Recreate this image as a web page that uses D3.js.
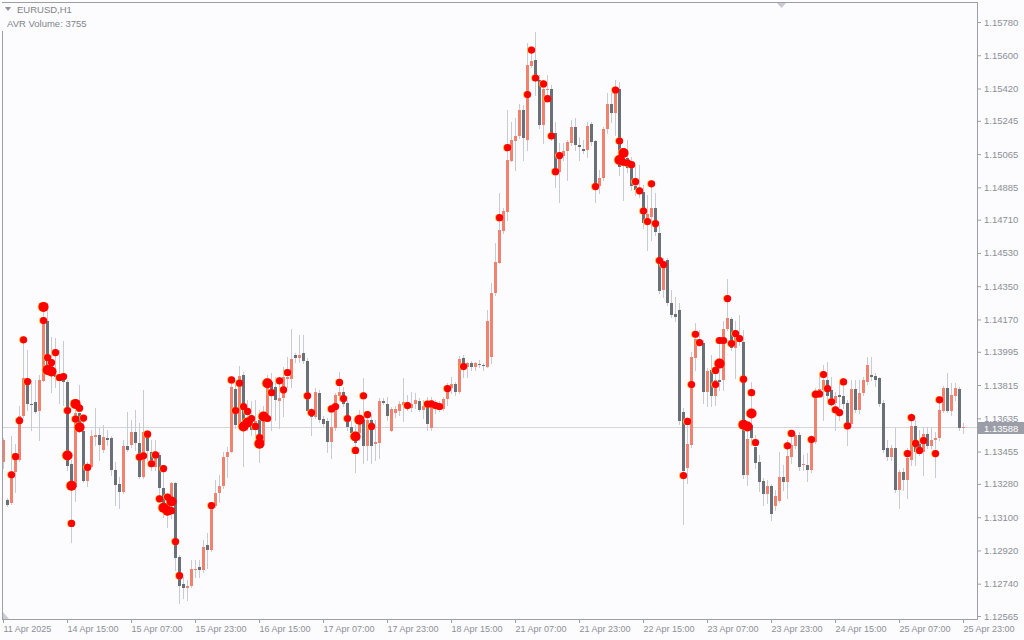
<!DOCTYPE html>
<html><head><meta charset="utf-8">
<script src="https://cdn.jsdelivr.net/npm/d3@7"></script>
<style>
html,body{margin:0;padding:0;background:#fcfcfe;}
svg{display:block;}
text{font-family:"Liberation Sans",Arial,sans-serif;}
</style></head><body>
<svg id="chart" width="1024" height="640"></svg>
<script>
const symbolLabel = "EURUSD,H1";
const indicatorLabel = "AVR Volume: 3755";
const lastPrice = 1.13588;

const opens = [1.13396,1.13194,1.13178,1.13342,1.13410,1.13648,1.13834,1.13713,1.13723,1.13672,
1.13839,1.14164,1.13924,1.13870,1.13861,1.13865,1.13832,1.13389,1.13263,1.13666,
1.13567,1.13298,1.13374,1.13533,1.13546,1.13461,1.13529,1.13529,1.13356,1.13281,
1.13236,1.13486,1.13492,1.13560,1.13501,1.13320,1.13551,1.13455,1.13374,1.13437,
1.13257,1.13167,1.13183,1.13286,1.12886,1.12740,1.12718,1.12730,1.12812,1.12828,
1.12812,1.12951,1.12920,1.13163,1.13230,1.13266,1.13423,1.13455,1.13795,1.13600,
1.13870,1.13690,1.13636,1.13582,1.13627,1.13509,1.13645,1.13834,1.13807,1.13726,
1.13747,1.13850,1.13849,1.13978,1.13961,1.13988,1.13946,1.13672,1.13641,1.13771,
1.13632,1.13618,1.13509,1.13582,1.13757,1.13780,1.13720,1.13587,1.13563,1.13555,
1.13627,1.13486,1.13627,1.13495,1.13504,1.13726,1.13713,1.13569,1.13666,1.13672,
1.13708,1.13693,1.13693,1.13713,1.13731,1.13681,1.13713,1.13585,1.13703,1.13686,
1.13686,1.13739,1.13798,1.13822,1.13780,1.13961,1.13910,1.13933,1.13910,1.13930,
1.13924,1.13915,1.13969,1.14315,1.14478,1.14649,1.14754,1.15030,1.15138,1.15163,
1.15304,1.15142,1.15544,1.15574,1.15466,1.15223,1.15412,1.15416,1.15178,1.14970,
1.15057,1.15084,1.15124,1.15214,1.15115,1.15093,1.15087,1.15227,1.15136,1.14893,
1.14938,1.15199,1.15336,1.15289,1.15418,1.15043,1.15046,1.15019,1.14893,1.14880,
1.14859,1.14694,1.14727,1.14772,1.14637,1.14330,1.14492,1.14261,1.14202,1.14222,
1.13668,1.13365,1.13492,1.13964,1.14065,1.14045,1.13780,1.13897,1.13758,1.13843,
1.13843,1.14119,1.14173,1.14015,1.14054,1.14050,1.13329,1.13600,1.13482,1.13396,
1.13293,1.13225,1.13271,1.13163,1.13190,1.13320,1.13288,1.13423,1.13486,1.13546,
1.13380,1.13383,1.13353,1.13509,1.13785,1.13789,1.13843,1.13789,1.13717,1.13762,
1.13757,1.13717,1.13605,1.13793,1.13681,1.13771,1.13829,1.13870,1.13865,1.13855,
1.13720,1.13472,1.13425,1.13472,1.13248,1.13342,1.13302,1.13410,1.13594,1.13497,
1.13455,1.13551,1.13486,1.13519,1.13526,1.13677,1.13798,1.13672,1.13757,1.13793,
1.13582];

const highs = [1.13529,1.13205,1.13540,1.13497,1.13703,1.14060,1.14005,1.13843,1.13843,1.13870,
1.14238,1.14238,1.14077,1.14070,1.14005,1.14056,1.13843,1.13410,1.13719,1.13816,
1.13638,1.13400,1.13573,1.13692,1.13584,1.13600,1.13573,1.13540,1.13400,1.13318,
1.13519,1.13670,1.13627,1.13681,1.13611,1.13789,1.13573,1.13519,1.13519,1.13454,
1.13367,1.13221,1.13291,1.13291,1.12896,1.12777,1.12761,1.12869,1.12869,1.12869,
1.12978,1.13015,1.13172,1.13302,1.13329,1.13455,1.13482,1.13854,1.13816,1.13919,
1.13886,1.13735,1.13726,1.13735,1.13681,1.13699,1.13870,1.13879,1.13861,1.13854,
1.13915,1.13966,1.14117,1.13989,1.14087,1.14087,1.13962,1.13692,1.13800,1.13789,
1.13645,1.13638,1.13699,1.13773,1.13883,1.13807,1.13735,1.13618,1.13600,1.13681,
1.13854,1.13665,1.13654,1.13627,1.13744,1.13744,1.13753,1.13697,1.13703,1.13731,
1.13852,1.13762,1.13780,1.13773,1.13744,1.13735,1.13753,1.13753,1.13735,1.13730,
1.13753,1.13825,1.13861,1.13834,1.13973,1.13978,1.13942,1.13946,1.13942,1.13951,
1.13933,1.14222,1.14366,1.14583,1.14853,1.14772,1.15304,1.15241,1.15261,1.15336,
1.15331,1.15665,1.15639,1.15726,1.15493,1.15466,1.15493,1.15439,1.15241,1.15125,
1.15124,1.15142,1.15250,1.15261,1.15159,1.15142,1.15241,1.15241,1.15142,1.14979,
1.15214,1.15394,1.15394,1.15466,1.15457,1.15097,1.15142,1.15051,1.15006,1.15006,
1.14898,1.14844,1.14904,1.14853,1.14682,1.14502,1.14505,1.14330,1.14294,1.14258,
1.13690,1.13636,1.13996,1.14150,1.14114,1.14060,1.13906,1.13978,1.13908,1.14077,
1.14159,1.14390,1.14186,1.14159,1.14195,1.14114,1.13600,1.13834,1.13546,1.13437,
1.13313,1.13302,1.13281,1.13248,1.13454,1.13383,1.13519,1.13557,1.13557,1.13562,
1.13437,1.13447,1.13546,1.13798,1.13879,1.13924,1.13942,1.13861,1.13780,1.13827,
1.13852,1.13735,1.13843,1.13843,1.13843,1.13861,1.13969,1.13969,1.13879,1.13861,
1.13735,1.13519,1.13492,1.13585,1.13356,1.13367,1.13475,1.13663,1.13627,1.13573,
1.13587,1.13589,1.13589,1.13562,1.13735,1.13811,1.13879,1.13825,1.13825,1.13807,
1.13609];

const lows = [1.13367,1.13162,1.13172,1.13237,1.13405,1.13643,1.13681,1.13573,1.13665,1.13519,
1.13838,1.13881,1.13780,1.13807,1.13719,1.13708,1.13356,1.12967,1.13190,1.13562,
1.13291,1.13270,1.13373,1.13492,1.13410,1.13454,1.13492,1.13329,1.13167,1.13151,
1.13232,1.13459,1.13481,1.13464,1.13313,1.13313,1.13410,1.13356,1.13356,1.13194,
1.13102,1.13048,1.13097,1.12815,1.12637,1.12664,1.12653,1.12723,1.12777,1.12777,
1.12804,1.12826,1.12918,1.13156,1.13183,1.13259,1.13320,1.13454,1.13584,1.13589,
1.13378,1.13573,1.13546,1.13546,1.13401,1.13502,1.13632,1.13573,1.13627,1.13584,
1.13645,1.13805,1.13807,1.13941,1.13941,1.13935,1.13670,1.13546,1.13638,1.13616,
1.13594,1.13455,1.13420,1.13573,1.13735,1.13703,1.13573,1.13535,1.13347,1.13519,
1.13393,1.13410,1.13393,1.13410,1.13420,1.13713,1.13627,1.13567,1.13641,1.13654,
1.13618,1.13681,1.13672,1.13690,1.13676,1.13636,1.13573,1.13573,1.13665,1.13672,
1.13681,1.13708,1.13771,1.13762,1.13771,1.13861,1.13861,1.13894,1.13897,1.13914,
1.13894,1.13914,1.13934,1.14303,1.14476,1.14637,1.14709,1.15028,1.14979,1.15152,
1.15033,1.15087,1.15537,1.15385,1.15206,1.15124,1.15358,1.15142,1.14889,1.14808,
1.15033,1.14925,1.15115,1.15087,1.15033,1.15070,1.15051,1.15115,1.14808,1.14853,
1.14925,1.15178,1.15241,1.15169,1.14952,1.14817,1.14968,1.14871,1.14844,1.14833,
1.14664,1.14546,1.14601,1.14628,1.14312,1.14294,1.14249,1.14184,1.14159,1.13605,
1.13063,1.13284,1.13481,1.13897,1.14033,1.13717,1.13699,1.13703,1.13708,1.13789,
1.13789,1.14114,1.14005,1.13852,1.14033,1.13313,1.13275,1.13492,1.13367,1.13239,
1.13167,1.13176,1.13086,1.13140,1.13183,1.13248,1.13205,1.13393,1.13475,1.13356,
1.13356,1.13293,1.13346,1.13502,1.13762,1.13627,1.13735,1.13708,1.13573,1.13627,
1.13692,1.13492,1.13594,1.13670,1.13663,1.13762,1.13822,1.13843,1.13811,1.13703,
1.13454,1.13410,1.13410,1.13237,1.13149,1.13248,1.13203,1.13383,1.13383,1.13437,
1.13329,1.13475,1.13475,1.13320,1.13519,1.13670,1.13670,1.13654,1.13735,1.13573,
1.13558];

const closes = [1.13515,1.13167,1.13329,1.13428,1.13645,1.13852,1.13712,1.13706,1.13668,1.13843,
1.14164,1.13924,1.13879,1.13861,1.13852,1.13832,1.13378,1.13263,1.13666,1.13600,
1.13298,1.13380,1.13537,1.13546,1.13492,1.13533,1.13519,1.13353,1.13275,1.13236,
1.13486,1.13461,1.13560,1.13501,1.13317,1.13560,1.13459,1.13401,1.13447,1.13257,
1.13167,1.13140,1.13286,1.12879,1.12730,1.12718,1.12730,1.12821,1.12819,1.12812,
1.12938,1.12923,1.13163,1.13233,1.13271,1.13423,1.13455,1.13802,1.13600,1.13865,
1.13591,1.13654,1.13573,1.13618,1.13546,1.13627,1.13825,1.13762,1.13735,1.13747,
1.13858,1.13861,1.13955,1.13961,1.13978,1.13946,1.13672,1.13641,1.13780,1.13627,
1.13605,1.13509,1.13587,1.13762,1.13780,1.13713,1.13587,1.13558,1.13501,1.13636,
1.13486,1.13627,1.13486,1.13509,1.13726,1.13720,1.13645,1.13686,1.13686,1.13713,
1.13723,1.13713,1.13713,1.13735,1.13681,1.13703,1.13605,1.13717,1.13713,1.13704,
1.13739,1.13793,1.13822,1.13780,1.13955,1.13915,1.13933,1.13910,1.13933,1.13926,
1.13919,1.14164,1.14312,1.14483,1.14655,1.14757,1.15033,1.15142,1.15163,1.15304,
1.15154,1.15547,1.15569,1.15466,1.15223,1.15416,1.15416,1.15178,1.14970,1.15066,
1.15084,1.15132,1.15214,1.15115,1.15105,1.15082,1.15219,1.15132,1.14889,1.14938,
1.15201,1.15336,1.15289,1.15412,1.14997,1.15006,1.14988,1.14894,1.14871,1.14859,
1.14694,1.14740,1.14772,1.14642,1.14325,1.14487,1.14261,1.14195,1.14186,1.13618,
1.13351,1.13495,1.13969,1.14065,1.14047,1.13780,1.13892,1.13758,1.13843,1.13834,
1.14119,1.14180,1.14015,1.14077,1.14070,1.13329,1.13524,1.13528,1.13393,1.13290,
1.13225,1.13271,1.13117,1.13216,1.13315,1.13288,1.13432,1.13492,1.13546,1.13374,
1.13389,1.13353,1.13509,1.13789,1.13793,1.13843,1.13757,1.13717,1.13757,1.13753,
1.13713,1.13594,1.13793,1.13681,1.13771,1.13843,1.13924,1.13861,1.13843,1.13713,
1.13461,1.13425,1.13472,1.13248,1.13342,1.13302,1.13420,1.13594,1.13455,1.13450,
1.13551,1.13486,1.13519,1.13531,1.13681,1.13798,1.13677,1.13762,1.13798,1.13582,
1.13588];

const dotIndex = [2,3,4,5,6,10,10,11,11,12,12,13,14,15,16,16,17,17,18,18,19,19,20,21,
34,35,36,37,38,39,40,40,41,42,41,42,43,44,52,57,58,59,60,60,61,61,62,63,64,64,65,66,66,67,69,70,71,
76,77,82,83,84,85,86,88,88,89,90,91,92,101,106,107,108,109,111,115,
124,126,131,132,133,135,136,137,138,139,148,153,154,154,155,155,156,157,158,159,160,161,162,163,164,165,
170,171,172,173,174,178,178,179,179,180,181,182,183,184,185,185,186,187,187,188,
196,197,202,203,204,205,206,207,208,209,210,211,226,227,228,229,230,233,234];
const dotPrice = [1.13329,1.13428,1.13623,1.14060,1.13834,1.14238,1.14164,1.13964,1.13897,1.13888,1.13937,1.13991,1.13856,1.13861,1.13677,1.13434,1.13270,1.13066,1.13713,1.13631,1.13690,1.13587,1.13636,1.13369,
1.13425,1.13432,1.13549,1.13389,1.13437,1.13199,1.13363,1.13151,1.13135,1.13135,1.13209,1.13185,1.12968,1.12783,1.13163,1.13843,1.13677,1.13825,1.13699,1.13591,1.13672,1.13612,1.13634,1.13591,1.13531,1.13497,1.13645,1.13825,1.13634,1.13774,1.13838,1.13789,1.13883,
1.13757,1.13666,1.13686,1.13699,1.13829,1.13742,1.13634,1.13537,1.13461,1.13627,1.13757,1.13655,1.13591,1.13704,1.13712,1.13713,1.13704,1.13699,1.13796,1.13915,
1.14721,1.15100,1.15387,1.15628,1.15477,1.15445,1.15365,1.15163,1.14970,1.15057,1.14889,1.15412,1.15136,1.15033,1.15071,1.15021,1.15017,1.15008,1.14916,1.14866,1.14757,1.14700,1.14904,1.14689,1.14489,1.14467,
1.13325,1.13618,1.13818,1.14090,1.14045,1.13894,1.13818,1.13931,1.14056,1.14056,1.14283,1.14040,1.14094,1.14067,1.13847,1.13600,1.13591,1.13661,1.13774,1.13504,
1.13486,1.13553,1.13520,1.13764,1.13767,1.13872,1.13796,1.13724,1.13681,1.13666,1.13832,1.13594,1.13444,1.13639,1.13499,1.13461,1.13515,1.13444,1.13735];
const dotLarge = [0,0,0,0,0,1,0,0,1,1,0,0,0,0,0,1,1,0,1,0,0,1,0,0,
0,0,0,0,0,0,0,1,1,0,0,1,0,0,0,0,0,0,0,1,0,1,0,0,0,1,1,1,0,0,0,0,0,
0,0,0,0,0,0,0,1,0,1,0,0,0,0,0,0,0,0,0,0,
0,0,0,0,0,0,0,0,0,0,0,0,0,1,1,0,0,0,0,0,0,0,0,0,0,0,
0,0,0,0,0,0,0,1,0,0,0,0,0,0,0,1,1,1,0,0,
0,0,0,0,0,0,0,0,0,0,0,0,0,0,0,0,0,0,0];

const timeLabels = ["11 Apr 2025","14 Apr 15:00","15 Apr 07:00","15 Apr 23:00","16 Apr 15:00","17 Apr 07:00",
"17 Apr 23:00","18 Apr 15:00","21 Apr 07:00","21 Apr 23:00","22 Apr 15:00","23 Apr 07:00","23 Apr 23:00",
"24 Apr 15:00","25 Apr 07:00","25 Apr 23:00"];
const timeLabelBars = [0,16,32,48,64,80,96,112,128,144,160,176,192,208,224,240];
const priceTicks = [1.15780,1.15600,1.15420,1.15245,1.15065,1.14885,1.14710,1.14530,1.14350,1.14170,
1.13995,1.13815,1.13635,1.13455,1.13280,1.13100,1.12920,1.12740,1.12565];

// ---------- drawing ----------
const svg = d3.select("#chart");
const L = 2, T = 2, R = 977, B = 619;
const axisCol = "#9c9fa6", textCol = "#8b8f97";
const upCol = "#f0836f", downCol = "#6b6f76", wickCol = "#c9cbd4";

svg.append("rect").attr("width",1024).attr("height",640).attr("fill","#fcfcfe");

const x = d3.scaleLinear().domain([0, 240]).range([3, 963]);
const y = d3.scaleLinear().domain([1.12565, 1.15780]).range([616, 22]);

svg.append("defs").append("clipPath").attr("id","plot")
  .append("rect").attr("x",L+1).attr("y",T+1).attr("width",R-L-1).attr("height",B-T-1);

const plot = svg.append("g").attr("clip-path","url(#plot)");

// current price line
const py = Math.round(y(lastPrice)) + 0.5;
plot.append("line").attr("x1",L).attr("x2",R).attr("y1",py).attr("y2",py)
  .attr("stroke","#d4d6dc").attr("stroke-width",1);

const bars = d3.range(opens.length);
// wicks
plot.append("g").selectAll("line").data(bars).join("line")
  .attr("x1", i => Math.round(x(i)) + 0.5).attr("x2", i => Math.round(x(i)) + 0.5)
  .attr("y1", i => Math.round(y(highs[i])))
  .attr("y2", i => Math.round(y(lows[i])) + 1)
  .attr("stroke", wickCol).attr("stroke-width", 1);
// bodies
plot.append("g").selectAll("rect").data(bars).join("rect")
  .attr("x", i => Math.round(x(i)) - 1)
  .attr("width", 3)
  .attr("y", i => Math.round(y(Math.max(opens[i], closes[i]))))
  .attr("height", i => Math.max(1, Math.round(y(Math.min(opens[i], closes[i]))) - Math.round(y(Math.max(opens[i], closes[i])))))
  .attr("fill", i => closes[i] >= opens[i] ? upCol : downCol);

// volume dots
const dots = d3.range(dotIndex.length);
const dg = plot.append("g");
dg.selectAll("circle.h").data(dots).join("circle").attr("class","h")
  .attr("cx", k => Math.round(x(dotIndex[k])) - 0.3)
  .attr("cy", k => y(dotPrice[k]))
  .attr("r", k => dotLarge[k] ? 5 : 3.6)
  .attr("fill", "#ffb52e");
dg.selectAll("circle.d").data(dots).join("circle").attr("class","d")
  .attr("cx", k => Math.round(x(dotIndex[k])) + 0.6)
  .attr("cy", k => y(dotPrice[k]))
  .attr("r", k => dotLarge[k] ? 5 : 3.6)
  .attr("fill", "#ff0000");

// frame
svg.append("line").attr("x1",L).attr("x2",R+0.5).attr("y1",T+0.5).attr("y2",T+0.5).attr("stroke",axisCol);
svg.append("line").attr("x1",L+0.5).attr("x2",L+0.5).attr("y1",31).attr("y2",B).attr("stroke",axisCol);

// bottom axis
const gx = svg.append("g").attr("transform",`translate(0,${B})`)
  .call(d3.axisBottom(x).tickValues(timeLabelBars).tickFormat((d,i) => timeLabels[i]).tickSizeInner(4).tickSizeOuter(0));
gx.select(".domain").attr("d", `M${L},0.5H${R+0.5}`).attr("stroke",axisCol);
gx.selectAll(".tick line").attr("stroke",axisCol);
gx.selectAll(".tick text").attr("text-anchor","start").attr("x",0).attr("fill",textCol)
  .style("font-size","9px").style("font-family","'Liberation Sans',Arial,sans-serif");

// right axis
const gy = svg.append("g").attr("transform",`translate(${R},0)`)
  .call(d3.axisRight(y).tickValues(priceTicks).tickFormat(d3.format(".5f")).tickSizeInner(4).tickSizeOuter(0));
gy.select(".domain").attr("d", `M0.5,${T}V${B+0.5}`).attr("stroke",axisCol);
gy.selectAll(".tick line").attr("stroke",axisCol);
gy.selectAll(".tick text").attr("fill",textCol).attr("x",7)
  .style("font-size","9.5px").style("font-family","'Liberation Sans',Arial,sans-serif");

// last price box
svg.append("rect").attr("x",R+1).attr("y",Math.round(y(lastPrice))-5).attr("width",46).attr("height",12).attr("fill","#9b9ea6");
svg.append("text").attr("x",R+7).attr("y",Math.round(y(lastPrice))+4.5).attr("fill","#ffffff")
  .style("font-size","9.5px").text(d3.format(".5f")(lastPrice));

// markers
svg.append("path").attr("d","M777,3L786,3L781.5,8Z").attr("fill","#c7cad1");
svg.append("path").attr("d","M3,612L3,619L9,619Z").attr("fill","#c9ccd3");
svg.append("path").attr("d","M5,7L11,7L8,11Z").attr("fill","#8c9099");

// labels
svg.append("text").attr("x",17).attr("y",12.5).attr("fill","#7f838b").style("font-size","9.5px").text(symbolLabel);
svg.append("text").attr("x",7).attr("y",26.5).attr("fill","#7f838b").style("font-size","9.5px").text(indicatorLabel);
</script>
</body></html>
